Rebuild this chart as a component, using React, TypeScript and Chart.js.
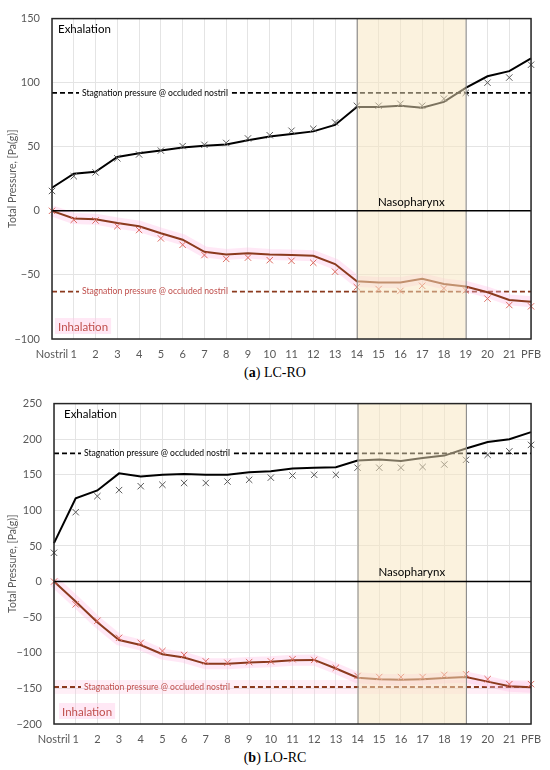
import React, { useEffect, useRef } from "react";
import { Chart, registerables } from "chart.js";
Chart.register(...registerables);

// ---------- data ----------
const categories = ["Nostril", "1", "2", "3", "4", "5", "6", "7", "8", "9", "10", "11", "12", "13", "14", "15", "16", "17", "18", "19", "20", "21", "PFB"];

// (a) LC-RO
const exhaleLineA = [18, 29, 30.5, 42, 45, 47, 49.5, 50.7, 51.7, 55, 58, 60, 62, 67, 81, 81, 82, 80.5, 85, 96, 105, 109, 119];
const exhaleMarksA = [15.5, 27, 30, 41, 44, 47, 50.5, 51.5, 53, 56.5, 59, 62.5, 64, 69, 82, 82, 83.5, 82, 87.5, 92, 100, 104, 114];
const inhaleLineA = [0, -6, -6.5, -9.5, -12, -17.5, -22.5, -32, -34, -33, -34, -34.5, -35, -41.5, -55, -56, -56, -53, -57, -59, -63.5, -69.5, -71];
const inhaleMarksA = [0, -7, -7.5, -12, -15, -21.5, -26.5, -34.5, -37.5, -36.5, -38.5, -39, -40.5, -47.5, -59.5, -61, -62.5, -58.5, -60.5, -62, -68.5, -73.5, -74.5];
const stagnationA = [92, -63];
const yRangeA = [-100, 150];

// (b) LO-RC
const exhaleLineB = [54, 117, 128, 152, 147.5, 150, 151, 150, 150, 153.5, 155, 159, 160, 160.5, 170, 171.5, 169.5, 173.5, 177, 187, 196, 200, 210];
const exhaleMarksB = [40.5, 97.5, 120, 128.5, 134, 136, 138.5, 138.5, 140.5, 143, 146, 149, 150, 150, 160, 160, 160, 161, 164.5, 171, 178, 183, 192];
const inhaleLineB = [0, -28, -57, -82, -89, -102, -106.5, -115.5, -115.5, -113.5, -112.5, -110.5, -110, -122, -135, -137, -138, -137, -135.5, -134, -140.5, -147, -148.5];
const inhaleMarksB = [0, -32, -55, -79, -86, -97.5, -103, -112, -114, -113, -112, -109, -110, -121, -132.5, -134, -134, -134, -131, -130, -137, -144, -144];
const stagnationB = [180, -148];
const yRangeB = [-200, 250];

const bandRange = ["14", "19"];
const yStep = 50;

const stagText = "Stagnation pressure @ occluded nostril";
const FONT = "Lato";
const GREY = "#595959";
const INH_LINE = "#8B3A1E";
const INH_TEXT = "#c0504d";
const INH_MARK = "#dc6a60";

type Cfg = {
  exhaleLine: number[];
  exhaleMarks: number[];
  inhaleLine: number[];
  inhaleMarks: number[];
  stag: number[];
  yRange: number[];
  yWidth: number;
  exhLabelDx: number;
  inhLabelDx: number;
  stagGlow: boolean;
};

function makePlugin(cfg: Cfg) {
  return {
    id: "decor",
    beforeDatasetsDraw(chart: any) {
      const { ctx, chartArea: a, scales } = chart;
      const y = scales.y;
      ctx.save();
      cfg.stag.forEach((v, i) => {
        const py = y.getPixelForValue(v);
        const inh = i === 1;
        if (inh && cfg.stagGlow) {
          ctx.fillStyle = "rgba(255,190,225,0.25)";
          ctx.fillRect(a.left, py - 7, a.right - a.left, 14);
        }
        ctx.font = `8.6px ${FONT}`;
        const tx = a.left + 30;
        const w = ctx.measureText(stagText).width;
        ctx.strokeStyle = inh ? INH_LINE : "#000";
        ctx.lineWidth = 1.8;
        ctx.setLineDash([5, 3]);
        ctx.beginPath();
        ctx.moveTo(a.left, py);
        ctx.lineTo(tx - 3, py);
        ctx.moveTo(tx + w + 4, py);
        ctx.lineTo(a.right, py);
        ctx.stroke();
        ctx.setLineDash([]);
        ctx.fillStyle = inh ? INH_TEXT : "#000";
        ctx.textBaseline = "middle";
        ctx.textAlign = "left";
        ctx.fillText(stagText, tx, py);
      });
      ctx.font = `11.5px ${FONT}`;
      ctx.textBaseline = "middle";
      ctx.textAlign = "left";
      ctx.fillStyle = "#000";
      ctx.fillText("Exhalation", a.left + cfg.exhLabelDx, a.top + 11);
      const iw = ctx.measureText("Inhalation").width;
      ctx.fillStyle = "rgba(255,205,232,0.45)";
      ctx.fillRect(a.left + cfg.inhLabelDx - 3, a.bottom - 21, iw + 6, 16);
      ctx.fillStyle = INH_TEXT;
      ctx.fillText("Inhalation", a.left + cfg.inhLabelDx, a.bottom - 12);
      ctx.restore();
    },
    afterDatasetsDraw(chart: any) {
      const { ctx, chartArea: a, scales } = chart;
      const x = scales.x;
      const y = scales.y;
      const x0 = x.getPixelForValue(categories.indexOf(bandRange[0]));
      const x1 = x.getPixelForValue(categories.indexOf(bandRange[1]));
      const zy = y.getPixelForValue(0);
      ctx.save();
      ctx.fillStyle = "rgba(247,230,190,0.5)";
      ctx.fillRect(x0, a.top, x1 - x0, a.bottom - a.top);
      ctx.strokeStyle = "#8c8c8c";
      ctx.lineWidth = 1;
      ctx.beginPath();
      ctx.moveTo(x0 + 0.5, a.top);
      ctx.lineTo(x0 + 0.5, a.bottom);
      ctx.moveTo(x1 + 0.5, a.top);
      ctx.lineTo(x1 + 0.5, a.bottom);
      ctx.stroke();
      ctx.strokeStyle = "#000";
      ctx.lineWidth = 1.5;
      ctx.beginPath();
      ctx.moveTo(a.left, zy);
      ctx.lineTo(a.right, zy);
      ctx.stroke();
      ctx.strokeStyle = "#262626";
      ctx.lineWidth = 1.5;
      ctx.strokeRect(a.left, a.top, a.right - a.left, a.bottom - a.top);
      ctx.font = `11.5px ${FONT}`;
      ctx.fillStyle = "#000";
      ctx.textAlign = "center";
      ctx.textBaseline = "middle";
      ctx.fillText("Nasopharynx", (x0 + x1) / 2, zy - 9);
      ctx.restore();
    },
  };
}

function PressureChart({ cfg }: { cfg: Cfg }) {
  const ref = useRef<HTMLCanvasElement>(null);
  useEffect(() => {
    const fmt = (v: any) => (v < 0 ? "\u2212" + Math.abs(v) : String(v));
    const chart = new Chart(ref.current as HTMLCanvasElement, {
      type: "line",
      data: {
        labels: categories,
        datasets: [
          {
            data: cfg.exhaleMarks,
            showLine: false,
            pointStyle: "crossRot",
            pointRadius: 4.5,
            pointBorderColor: GREY,
            pointBorderWidth: 1,
            order: 0,
            clip: false,
          },
          {
            data: cfg.inhaleMarks,
            showLine: false,
            pointStyle: "crossRot",
            pointRadius: 4.5,
            pointBorderColor: INH_MARK,
            pointBorderWidth: 1,
            order: 0,
            clip: false,
          },
          {
            data: cfg.exhaleLine,
            borderColor: "#000",
            borderWidth: 2,
            pointRadius: 0,
            tension: 0,
            order: 1,
            clip: false,
          },
          {
            data: cfg.inhaleLine,
            borderColor: INH_LINE,
            borderWidth: 2,
            pointRadius: 0,
            tension: 0,
            order: 1,
            clip: false,
          },
          {
            data: cfg.inhaleLine,
            borderColor: "rgba(255,190,228,0.35)",
            borderWidth: 11,
            pointRadius: 0,
            tension: 0,
            order: 5,
            clip: false,
          },
        ],
      } as any,
      options: {
        animation: false,
        responsive: true,
        maintainAspectRatio: false,
        layout: { padding: { left: 0, right: 13, top: 10, bottom: 0 } },
        plugins: { legend: { display: false }, tooltip: { enabled: false } },
        events: [],
        scales: {
          x: {
            type: "category",
            ticks: { color: GREY, font: { family: FONT, size: 11 }, padding: 9, autoSkip: false, maxRotation: 0 },
            grid: { color: "#e4e4e4", drawTicks: false },
            border: { display: false },
            afterFit: (s: any) => {
              s.height = 26;
            },
          },
          y: {
            min: cfg.yRange[0],
            max: cfg.yRange[1],
            ticks: { stepSize: yStep, color: GREY, font: { family: FONT, size: 11 }, padding: 12, callback: fmt },
            grid: { color: "#e4e4e4", drawTicks: false },
            border: { display: false },
            title: {
              display: true,
              text: "Total Pressure, [Pa(g)]",
              color: GREY,
              font: { family: FONT, size: 10.5 },
              padding: { top: 6, bottom: 0 },
            },
            afterFit: (s: any) => {
              s.width = cfg.yWidth;
            },
          },
        },
      } as any,
      plugins: [makePlugin(cfg)],
    });
    return () => chart.destroy();
  }, []);
  return (
    <div style={{ position: "relative", width: 550, height: 365 }}>
      <canvas ref={ref} />
    </div>
  );
}

const cfgA: Cfg = {
  exhaleLine: exhaleLineA,
  exhaleMarks: exhaleMarksA,
  inhaleLine: inhaleLineA,
  inhaleMarks: inhaleMarksA,
  stag: stagnationA,
  yRange: yRangeA,
  yWidth: 52,
  exhLabelDx: 6,
  inhLabelDx: 6,
  stagGlow: false,
};
const cfgB: Cfg = {
  exhaleLine: exhaleLineB,
  exhaleMarks: exhaleMarksB,
  inhaleLine: inhaleLineB,
  inhaleMarks: inhaleMarksB,
  stag: stagnationB,
  yRange: yRangeB,
  yWidth: 54,
  exhLabelDx: 10,
  inhLabelDx: 8,
  stagGlow: true,
};

const capStyle: React.CSSProperties = {
  position: "absolute",
  left: 0,
  width: 550,
  textAlign: "center",
  fontFamily: '"Liberation Serif", "Times New Roman", serif',
  fontSize: 14,
  fontWeight: "normal",
  lineHeight: "16px",
  color: "#000",
};

export default function App() {
  return (
    <div style={{ position: "absolute", left: 0, top: 0, width: 550, height: 770, background: "#fff" }}>
      <div style={{ position: "absolute", left: 0, top: 0 }}>
        <PressureChart cfg={cfgA} />
      </div>
      <div style={{ ...capStyle, top: 365 }}>
        (<b>a</b>) LC-RO
      </div>
      <div style={{ position: "absolute", left: 0, top: 385 }}>
        <PressureChart cfg={cfgB} />
      </div>
      <div style={{ ...capStyle, top: 750 }}>
        (<b>b</b>) LO-RC
      </div>
    </div>
  );
}
